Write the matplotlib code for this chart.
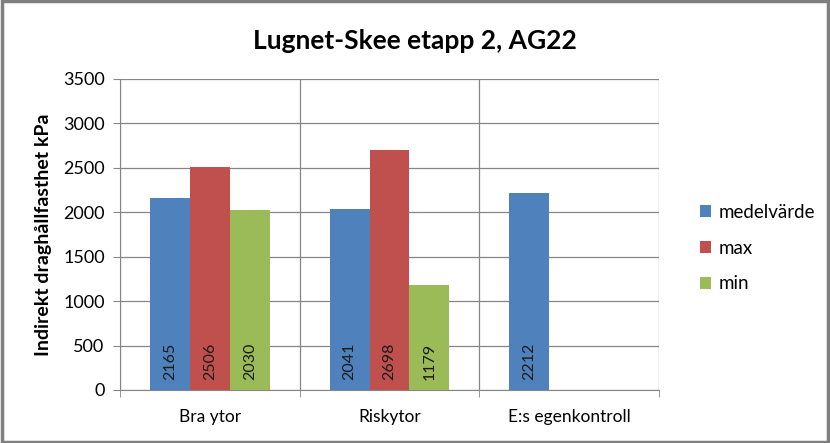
import matplotlib
matplotlib.use("Agg")
import matplotlib.pyplot as plt
import numpy as np

# data
categories = ["Bra ytor", "Riskytor", "E:s egenkontroll"]
series_names = ["medelvärde", "max", "min"]
medelvarde = [2165, 2041, 2212]
max_values = [2506, 2698, np.nan]
min_values = [2030, 1179, np.nan]
colors = ["#4F81BD", "#C0504D", "#9BBB59"]
yticks = [0, 500, 1000, 1500, 2000, 2500, 3000, 3500]

plt.rcParams["font.family"] = ["Lato", "DejaVu Sans"]

fig = plt.figure(figsize=(8.3, 4.43), dpi=100)
ax = fig.add_axes([120 / 830, 53 / 443, 539 / 830, 311 / 443])

x = np.arange(len(categories))
width = 0.222
grid_color = "#868686"

for i, (name, vals, col) in enumerate(zip(series_names, [medelvarde, max_values, min_values], colors)):
    pos = x + (i - 1) * width
    ax.bar(pos, vals, width=width, color=col, label=name, zorder=3)
    for p, v in zip(pos, vals):
        if not np.isnan(v):
            ax.text(p, 110, f"{v:.0f}", rotation=90, ha="center", va="bottom",
                    fontsize=11.5, color="#1a1a1a", zorder=4)

ax.set_xlim(-0.5, len(categories) - 0.5)
ax.set_ylim(0, 3500)
ax.set_yticks(yticks)
ax.set_xticks(x)
ax.set_xticklabels(categories, fontsize=12.5)
ax.tick_params(axis="x", length=0, pad=14)
ax.tick_params(axis="y", labelsize=13, length=5, color=grid_color, pad=6)

# category separators and minor ticks on x axis
ax.set_xticks(np.arange(len(categories) + 1) - 0.5, minor=True)
ax.tick_params(axis="x", which="minor", length=5, color=grid_color)
ax.grid(axis="y", color=grid_color, linewidth=0.9, zorder=0)
ax.grid(axis="x", which="minor", color=grid_color, linewidth=0.9, zorder=0)
for s in ["top", "right"]:
    ax.spines[s].set_visible(False)
ax.spines["left"].set_color(grid_color)
ax.spines["bottom"].set_color(grid_color)

ax.set_ylabel("Indirekt draghållfasthet kPa", fontsize=14, fontweight="bold", labelpad=8)
fig.suptitle("Lugnet-Skee etapp 2, AG22", fontsize=19, fontweight="bold", y=0.935)

fig.legend(loc="center left", bbox_to_anchor=(683 / 830, (443 - 248) / 443), frameon=False,
           fontsize=13.5, handlelength=0.6, handleheight=0.6, handletextpad=0.4,
           labelspacing=1.0)

# outer border of the chart area
fig.patches.append(plt.Rectangle((0.002, 0.003), 0.996, 0.994, transform=fig.transFigure,
                                 fill=False, edgecolor="#7f7f7f", linewidth=2.5))

fig.savefig("out.png", dpi=100)
